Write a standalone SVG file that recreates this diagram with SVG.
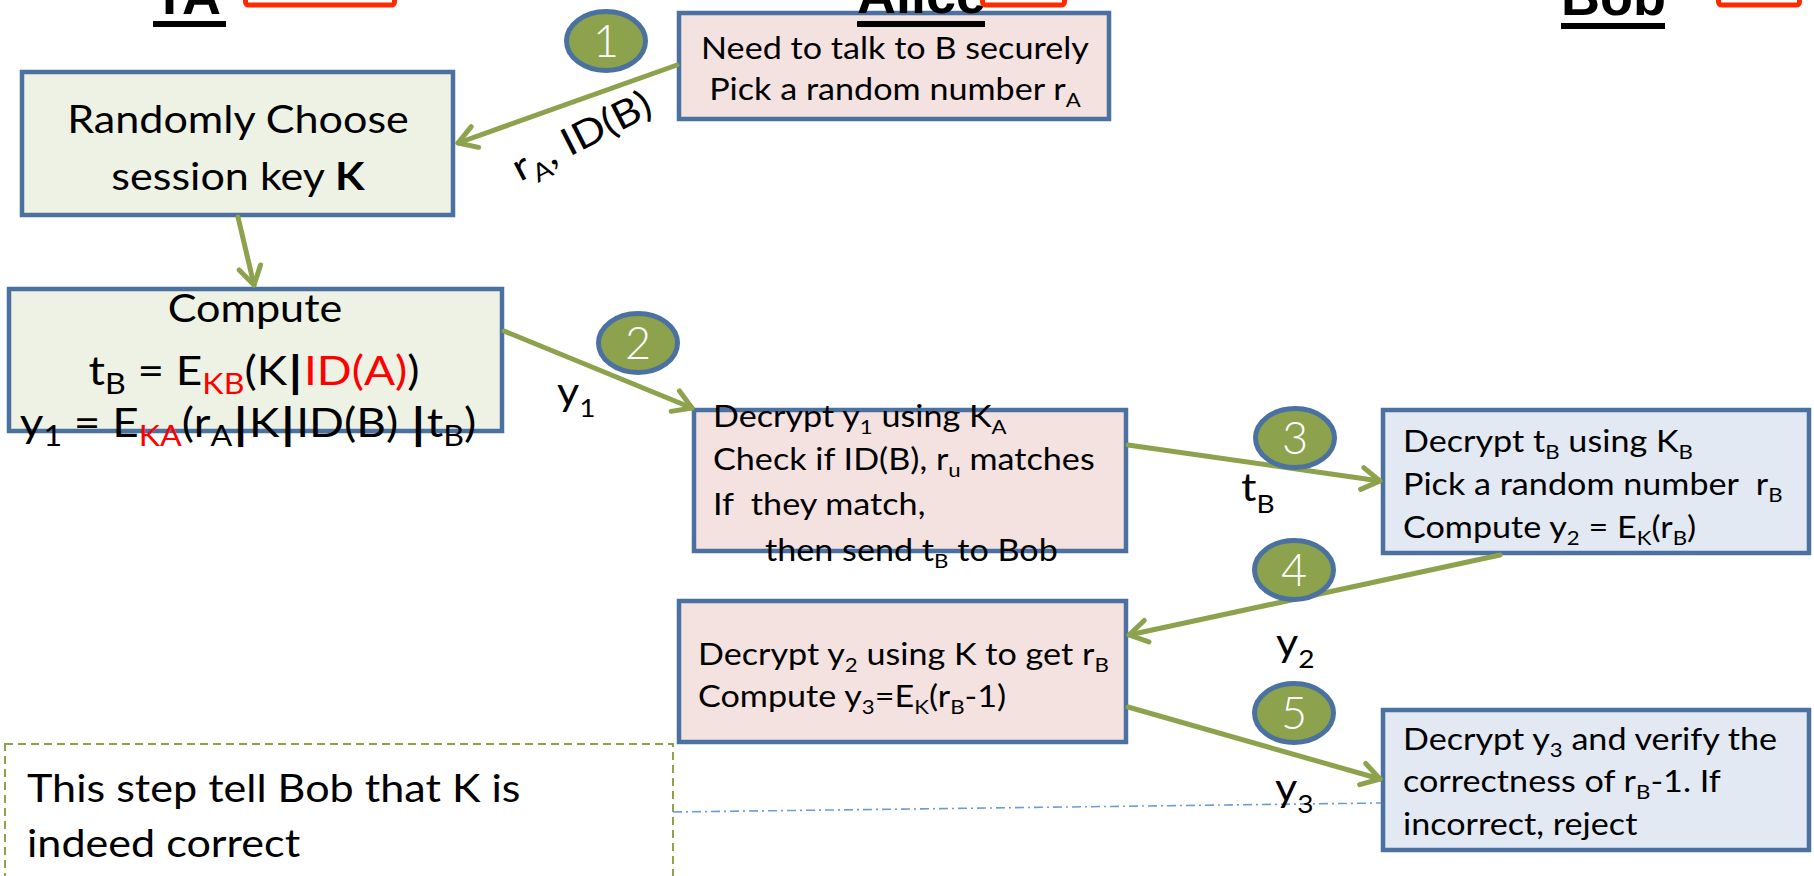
<svg xmlns="http://www.w3.org/2000/svg" width="1814" height="876" viewBox="0 0 1814 876" xml:space="preserve">
<defs>
<style>
text{font-family:Lato,"Open Sans","Liberation Sans",sans-serif;fill:#000;white-space:pre}
.sx{transform-box:fill-box;transform:scaleX(1.12)}
.l{transform-origin:0% 50%}
.c{text-anchor:middle;transform-origin:50% 50%}
.big{font-size:38.5px}
.fx{font-size:41px}
.sm{font-size:30.5px}
.sub{font-size:0.65em}
.fx .sub{font-size:0.7em}
.hd{font-family:"Liberation Sans",Arial,sans-serif;font-weight:bold;font-size:54px}
.num{fill:#fff;font-size:45px;font-weight:300;text-anchor:middle}
.n{stroke:#4A71A0;stroke-width:4.5}
.g{fill:#EEF2E5}
.p{fill:#F4E2E1}
.b{fill:#E2E9F3}
.step{fill:#8CA24D;stroke:#4A71A0;stroke-width:5}
.conn{stroke:#8CA24D;stroke-width:5;fill:none;stroke-linecap:round;marker-end:url(#arr)}
.red{fill:#FF0000}
.bar{font-weight:bold;font-family:"DejaVu Sans",sans-serif}
.rb{fill:none;stroke:#FF2A00;stroke-width:5}
.ul{fill:#000}
.note{fill:none;stroke:#8CA24D;stroke-width:2;stroke-dasharray:8 5}
.dd{stroke:#6C9BD6;stroke-width:1.6;fill:none;stroke-dasharray:9 4 2 4}
</style>
<marker id="arr" markerUnits="userSpaceOnUse" markerWidth="30" markerHeight="30" viewBox="0 0 30 30" refX="23" refY="15" orient="auto">
<path d="M5,4 L23,15 L5,26" fill="none" stroke="#8CA24D" stroke-width="5" stroke-linecap="round" stroke-linejoin="round"/>
</marker>
</defs>
<rect x="0" y="0" width="1814" height="876" fill="#ffffff"/>
<g id="ta-choose"><rect class="n g" x="22" y="72" width="431" height="143"/><text class="big c sx" x="238" y="133">Randomly Choose</text><text class="big c sx" x="238" y="190">session key <tspan font-weight="bold">K</tspan></text></g>
<g id="ta-compute"><rect class="n g" x="9" y="289" width="493" height="142"/>
<text class="big c sx" x="255" y="322">Compute</text>
<text class="fx c sx" x="254" y="385">t<tspan class="sub" dy="9">B</tspan><tspan dy="-9"> = E</tspan><tspan class="sub red" dy="9">KB</tspan><tspan dy="-9">(K</tspan><tspan class="bar">|</tspan><tspan class="red">ID(A)</tspan>)</text>
<text class="fx c sx" x="248" y="437">y<tspan class="sub" dy="9">1</tspan><tspan dy="-9"> = E</tspan><tspan class="sub red" dy="9">KA</tspan><tspan dy="-9">(r</tspan><tspan class="sub" dy="9">A</tspan><tspan class="bar" dy="-9">|</tspan>K<tspan class="bar">|</tspan>ID(B) <tspan class="bar">|</tspan>t<tspan class="sub" dy="9">B</tspan><tspan dy="-9">)</tspan></text>
</g>
<g id="alice-start"><rect class="n p" x="679" y="13" width="430" height="106"/><text class="sm c sx" x="895" y="59">Need to talk to B securely</text><text class="sm c sx" x="895" y="100">Pick a random number r<tspan class="sub" dy="7">A</tspan></text></g>
<g id="alice-decrypt"><rect class="n p" x="694" y="410" width="432" height="141"/>
<text class="sm l sx" x="713" y="427">Decrypt y<tspan class="sub" dy="7">1</tspan><tspan dy="-7"> using K</tspan><tspan class="sub" dy="7">A</tspan></text>
<text class="sm l sx" x="713" y="470">Check if ID(B), r<tspan class="sub" dy="7">u</tspan><tspan dy="-7"> matches</tspan></text>
<text class="sm l sx" x="713" y="515">If  they match,</text>
<text class="sm l sx" x="765" y="561">then send t<tspan class="sub" dy="7">B</tspan><tspan dy="-7"> to Bob</tspan></text>
</g>
<g id="bob-decrypt"><rect class="n b" x="1383" y="410" width="426" height="143"/>
<text class="sm l sx" x="1403" y="452">Decrypt t<tspan class="sub" dy="7">B</tspan><tspan dy="-7"> using K</tspan><tspan class="sub" dy="7">B</tspan></text>
<text class="sm l sx" x="1403" y="495">Pick a random number  r<tspan class="sub" dy="7">B</tspan></text>
<text class="sm l sx" x="1403" y="538">Compute y<tspan class="sub" dy="7">2</tspan><tspan dy="-7"> = E</tspan><tspan class="sub" dy="7">K</tspan><tspan dy="-7">(r</tspan><tspan class="sub" dy="7">B</tspan><tspan dy="-7">)</tspan></text>
</g>
<g id="alice-compute"><rect class="n p" x="679" y="601" width="447" height="141"/>
<text class="sm l sx" x="698" y="665">Decrypt y<tspan class="sub" dy="7">2</tspan><tspan dy="-7"> using K to get r</tspan><tspan class="sub" dy="7">B</tspan></text>
<text class="sm l sx" x="698" y="707">Compute y<tspan class="sub" dy="7">3</tspan><tspan dy="-7">=E</tspan><tspan class="sub" dy="7">K</tspan><tspan dy="-7">(r</tspan><tspan class="sub" dy="7">B</tspan><tspan dy="-7">-1)</tspan></text>
</g>
<g id="bob-verify"><rect class="n b" x="1383" y="710" width="426" height="140"/>
<text class="sm l sx" x="1403" y="750">Decrypt y<tspan class="sub" dy="7">3</tspan><tspan dy="-7"> and verify the</tspan></text>
<text class="sm l sx" x="1403" y="792">correctness of r<tspan class="sub" dy="7">B</tspan><tspan dy="-7">-1. If</tspan></text>
<text class="sm l sx" x="1403" y="835">incorrect, reject</text>
</g>
<g id="note"><rect class="note" x="5" y="744" width="668" height="200"/><text class="big l sx" x="27" y="802">This step tell Bob that K is</text><text class="big l sx" x="27" y="857">indeed correct</text></g>
<g id="connectors">
<line class="conn" x1="677" y1="65" x2="458" y2="143"/>
<line class="conn" x1="238" y1="217" x2="254" y2="285"/>
<line class="conn" x1="504" y1="331" x2="692" y2="408"/>
<line class="conn" x1="1128" y1="445" x2="1380" y2="481"/>
<line class="conn" x1="1500" y1="555" x2="1129" y2="635"/>
<line class="conn" x1="1128" y1="707" x2="1380" y2="779"/>
<line class="dd" x1="673" y1="812" x2="1381" y2="803"/>
<g transform="translate(520,182) rotate(-27)"><text class="big l sx" x="0" y="0">r<tspan class="sub" dy="9">A</tspan><tspan dy="-9">, ID(B)</tspan></text></g>
<text class="big l sx" x="557" y="405">y<tspan class="sub" dy="12">1</tspan></text>
<text class="big l sx" x="1241" y="501">t<tspan class="sub" dy="12">B</tspan></text>
<text class="big l sx" x="1276" y="656">y<tspan class="sub" dy="12">2</tspan></text>
<text class="big l sx" x="1275" y="801">y<tspan class="sub" dy="12">3</tspan></text>
</g>
<g id="step1"><ellipse class="step" cx="606" cy="41" rx="39.5" ry="29.5"/><text class="num" x="606" y="57">1</text></g>
<g id="step2"><ellipse class="step" cx="638" cy="343" rx="39.5" ry="29.5"/><text class="num" x="638" y="359">2</text></g>
<g id="step3"><ellipse class="step" cx="1295" cy="438" rx="39.5" ry="29.5"/><text class="num" x="1295" y="454">3</text></g>
<g id="step4"><ellipse class="step" cx="1294" cy="570" rx="39.5" ry="29.5"/><text class="num" x="1294" y="586">4</text></g>
<g id="step5"><ellipse class="step" cx="1294" cy="713" rx="39.5" ry="29.5"/><text class="num" x="1294" y="729">5</text></g>
<g id="hdr-ta"><text class="hd" x="153" y="14">TA</text><rect class="ul" x="153" y="21" width="73" height="6"/><rect class="rb" x="245.5" y="-40" width="149" height="45" rx="3"/></g>
<g id="hdr-alice"><text class="hd" x="857" y="13">Alice</text><rect class="ul" x="857" y="21" width="128" height="6"/><rect class="rb" x="982.5" y="-40" width="82" height="45" rx="3"/></g>
<g id="hdr-bob"><text class="hd" x="1561" y="15">Bob</text><rect class="ul" x="1561" y="23" width="104" height="6"/><rect class="rb" x="1718.5" y="-40" width="81" height="45" rx="3"/></g>
</svg>
